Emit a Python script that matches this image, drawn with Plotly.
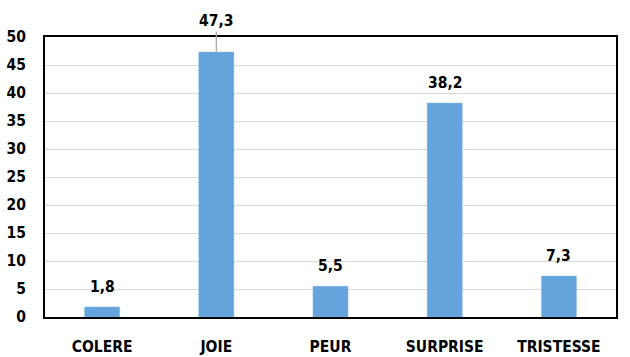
import plotly.graph_objects as go

categories = ["COLERE", "JOIE", "PEUR", "SURPRISE", "TRISTESSE"]
values = [1.8, 47.3, 5.5, 38.2, 7.3]
y_ticks = [0, 5, 10, 15, 20, 25, 30, 35, 40, 45, 50]

FONT = "DejaVu Sans Condensed, Liberation Sans Narrow, sans-serif"
BAR = "#64A3DB"
FS = 15.5

fig = go.Figure()
fig.add_trace(go.Bar(
    x=categories, y=values,
    marker=dict(color=BAR, line=dict(color="#86B8E4", width=0.5)),
    hoverinfo="skip",
))

for c, v in zip(categories, values):
    label = f"{v:.1f}".replace(".", ",")
    if v == max(values):
        fig.add_annotation(x=c, y=v, text="<b>" + label + "</b>", showarrow=True,
                           arrowhead=0, arrowwidth=1.2, arrowcolor="#a6a6a6",
                           ax=0, ay=-31, font=dict(family=FONT, size=FS, color="black"))
    else:
        fig.add_annotation(x=c, y=v, text="<b>" + label + "</b>", showarrow=False,
                           yanchor="middle", yshift=20,
                           font=dict(family=FONT, size=FS, color="black"))

fig.update_layout(
    width=630, height=357,
    margin=dict(l=45, r=14, t=37, b=40),
    paper_bgcolor="white", plot_bgcolor="white",
    bargap=0.693,
    showlegend=False,
    font=dict(family=FONT, size=FS, color="black"),
)
fig.update_xaxes(
    automargin=False,
    showline=True, linecolor="black", linewidth=2, mirror=True,
    showgrid=False, ticks="", ticklabelstandoff=14,
    tickfont=dict(family=FONT, size=FS, color="black", weight="bold"),
)
fig.update_yaxes(
    automargin=False,
    range=[0, 50], tickvals=y_ticks,
    showline=True, linecolor="black", linewidth=2, mirror=True,
    showgrid=True, gridcolor="#d9d9d9", gridwidth=1.3,
    zeroline=False, ticks="", ticklabelstandoff=14,
    tickfont=dict(family=FONT, size=FS, color="black", weight="bold"),
)

fig.write_html("out.html")
